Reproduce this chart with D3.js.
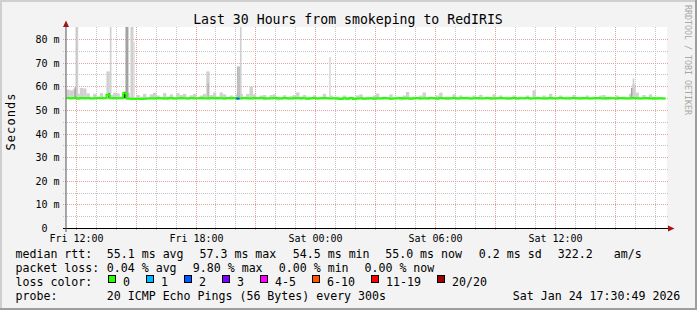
<!DOCTYPE html>
<html>
<head>
<meta charset="utf-8">
<script src="https://cdn.jsdelivr.net/npm/d3@7"></script>
<style>
    html, body { margin: 0; padding: 0; background: #f3f3f3; }
    svg { display: block; }
    text { font-family: "DejaVu Sans Mono", monospace; fill: #000; }
</style>
</head>
<body>
<svg id="chart" width="697" height="310"></svg>
<script>
// ---- data ----
const startStamp = '2026-01-23 11:30:49';
const endStamp = '2026-01-24 17:30:49';
const stepMinutes = 10;

// median rtt (ms), one value per 10 minutes
const medianRtt = [
    55.2, 55.1, 55.2, 55.0, 55.2, 55.1, 55.2, 55.0, 55.1, 55.2,
    55.1, 55.2, 56.6, 55.1, 55.2, 55.1, 55.2, 57.3, 55.0, 54.9,
    54.8, 54.9, 54.8, 54.9, 55.0, 55.1, 55.0, 55.2, 55.1, 55.0,
    55.1, 55.2, 55.0, 55.1, 55.2, 55.1, 55.0, 55.2, 55.1, 55.1,
    55.2, 55.1, 55.0, 55.2, 55.1, 55.2, 55.1, 55.0, 55.2, 55.1,
    55.2, 55.0, 55.1, 55.2, 55.1, 55.0, 55.2, 55.1, 55.2, 55.1,
    55.0, 55.1, 55.2, 55.1, 55.0, 55.2, 55.1, 55.0, 55.2, 55.1,
    55.2, 55.1, 54.9, 55.1, 55.2, 55.0, 55.1, 55.2, 55.1, 55.0,
    55.1, 55.0, 54.8, 55.1, 54.9, 55.2, 54.8, 55.0, 55.1, 54.9,
    55.0, 55.1, 54.9, 55.1, 55.0, 55.2, 55.1, 54.9, 55.0, 55.1,
    55.2, 55.0, 55.1, 54.9, 55.1, 55.2, 55.0, 55.1, 55.0, 55.2,
    55.1, 55.0, 55.2, 55.1, 55.0, 55.1, 55.2, 55.0, 55.1, 55.2,
    55.1, 55.0, 55.1, 55.2, 55.0, 55.1, 55.2, 55.1, 55.0, 55.1,
    55.2, 55.1, 55.0, 55.1, 55.2, 55.0, 55.1, 55.1, 55.2, 55.0,
    55.1, 55.2, 55.1, 55.0, 55.1, 55.2, 55.0, 55.1, 55.2, 55.1,
    55.0, 55.1, 55.2, 55.1, 55.0, 55.2, 55.1, 55.0, 55.1, 55.2,
    55.1, 55.0, 55.2, 55.1, 55.1, 55.0, 55.2, 55.1, 55.0, 55.1,
    55.2, 55.1, 55.0, 55.1, 55.2, 55.0, 55.1, 55.0, 55.1, 55.0
];

// highest ping of each 10 minute sample (ms)
const smokeTop = [
    58.8, 58.5, 59.0, 57.0, 59.5, 59.3, 57.2, 55.6, 57.0, 55.8,
    57.3, 55.6, 66.5, 56.5, 57.5, 57.2, 55.8, 58.0, 57.5, 55.6,
    55.6, 56.5, 55.8, 57.0, 55.6, 56.8, 57.5, 56.3, 55.6, 57.3,
    55.8, 56.8, 55.6, 57.3, 56.5, 57.0, 55.6, 56.4, 57.0, 55.6,
    56.3, 57.0, 66.5, 56.5, 57.5, 55.8, 57.6, 56.8, 55.6, 56.3,
    55.6, 57.0, 57.0, 55.8, 57.0, 60.0, 56.8, 55.6, 56.3, 56.5,
    55.6, 56.5, 56.8, 55.8, 55.6, 56.4, 55.6, 56.0, 56.5, 57.6,
    55.8, 56.5, 55.8, 55.6, 56.4, 55.6, 55.8, 57.0, 55.6, 56.3,
    55.6, 55.8, 55.6, 56.3, 55.6, 55.8, 55.6, 56.3, 56.8, 55.6,
    55.8, 55.6, 56.3, 57.1, 55.6, 55.8, 55.6, 56.8, 55.6, 55.8,
    55.6, 56.3, 57.8, 55.6, 55.8, 55.6, 56.3, 57.6, 55.6, 55.8,
    55.6, 56.3, 57.5, 55.6, 55.8, 55.6, 56.8, 55.6, 56.3, 55.6,
    55.8, 55.6, 56.3, 55.6, 56.6, 55.6, 55.8, 55.6, 56.8, 55.6,
    56.3, 55.6, 55.8, 55.6, 56.3, 55.6, 55.8, 55.6, 56.3, 55.6,
    58.5, 55.8, 55.6, 56.3, 55.6, 57.0, 55.8, 55.6, 56.3, 55.6,
    55.8, 55.6, 56.5, 55.6, 55.8, 55.6, 56.3, 55.6, 55.8, 55.6,
    56.3, 56.5, 55.6, 55.8, 55.6, 56.3, 55.6, 55.8, 55.6, 57.0,
    61.0, 57.5, 55.6, 56.5, 55.6, 56.8, 55.6, 55.8, 55.6, 55.6
];

// lowest ping of each 10 minute sample (ms)
const smokeBottom = [
    54.7, 54.6, 54.7, 54.5, 54.7, 54.6, 54.7, 54.7, 54.6, 54.7,
    54.7, 54.6, 54.7, 54.7, 54.5, 54.7, 54.6, 54.7, 54.4, 54.3,
    54.4, 54.3, 54.5, 54.6, 54.7, 54.6, 54.7, 54.6, 54.7, 54.6,
    54.3, 54.7, 54.6, 54.7, 54.5, 54.7, 54.6, 54.7, 54.6, 54.7,
    54.6, 54.7, 54.7, 54.6, 54.7, 54.5, 54.7, 54.6, 54.7, 54.6,
    54.7, 54.6, 54.5, 54.7, 54.6, 54.7, 54.6, 54.7, 54.6, 54.3,
    54.7, 54.6, 54.7, 54.2, 54.6, 54.7, 54.5, 54.7, 54.6, 54.7,
    54.3, 54.7, 54.5, 54.6, 54.7, 54.6, 54.7, 54.6, 54.7, 54.6,
    54.7, 54.5, 54.4, 54.6, 54.3, 54.7, 54.4, 54.6, 54.7, 54.5,
    54.6, 54.7, 54.5, 54.6, 54.7, 54.6, 54.7, 54.4, 54.6, 54.7,
    54.2, 54.6, 54.7, 54.5, 54.6, 54.7, 54.6, 54.7, 54.6, 54.7,
    54.6, 54.3, 54.7, 54.6, 54.5, 54.6, 54.7, 54.6, 54.7, 54.6,
    54.7, 54.6, 54.7, 54.6, 54.7, 54.6, 54.7, 54.3, 54.6, 54.7,
    54.6, 54.7, 54.6, 54.4, 54.7, 54.6, 54.7, 54.6, 54.7, 54.6,
    54.7, 54.6, 54.7, 54.6, 54.5, 54.6, 54.7, 54.6, 54.7, 54.6,
    54.7, 54.6, 54.7, 54.6, 54.7, 54.6, 54.7, 54.6, 54.7, 54.6,
    54.7, 54.6, 54.3, 54.6, 54.7, 54.6, 54.7, 54.6, 54.7, 54.6,
    54.6, 54.7, 54.6, 54.7, 54.6, 54.7, 54.3, 54.6, 54.7, 54.6
];

// short outliers (5 minute slots): range in ms and how many of the 20 pings fall there
const smokeBursts = [
    { at: '2026-01-23 11:55', lo: 55.5, hi: 59.8, pings: 7 },
    { at: '2026-01-23 11:58', lo: 56.0, hi: 95, pings: 3 },
    { at: '2026-01-23 12:01', lo: 56.0, hi: 95, pings: 2 },
    { at: '2026-01-23 13:37', lo: 55.2, hi: 57.2, pings: 19 },
    { at: '2026-01-23 13:41', lo: 57.2, hi: 95, pings: 2 },
    { at: '2026-01-23 14:24', lo: 55.2, hi: 57.8, pings: 19 },
    { at: '2026-01-23 14:28', lo: 57.8, hi: 95, pings: 6 },
    { at: '2026-01-23 14:32', lo: 55.5, hi: 95, pings: 6 },
    { at: '2026-01-23 14:43', lo: 55.5, hi: 95, pings: 2 },
    { at: '2026-01-23 14:47', lo: 55.5, hi: 95, pings: 2 },
    { at: '2026-01-23 14:51', lo: 55.5, hi: 79, pings: 1 },
    { at: '2026-01-23 18:34', lo: 55.5, hi: 61.5, pings: 4 },
    { at: '2026-01-23 20:03', lo: 55.5, hi: 68.6, pings: 4 },
    { at: '2026-01-23 20:07', lo: 55.5, hi: 68.6, pings: 4 },
    { at: '2026-01-23 20:12', lo: 55.5, hi: 95, pings: 2 },
    { at: '2026-01-24 00:40', lo: 56.0, hi: 72.6, pings: 1 },
    { at: '2026-01-24 15:47', lo: 55.5, hi: 59.5, pings: 6 },
    { at: '2026-01-24 15:52', lo: 55.5, hi: 63.5, pings: 2 }
];

// samples with packet loss (pings lost out of 20)
const lossEvents = [
    { at: '2026-01-23 20:10', lost: 2 }
];

const lossLabels = ['0', '1', '2', '3', '4-5', '6-10', '11-19', '20/20'];
const lossColors = ['#26ff00', '#00b8ff', '#0059ff', '#7e00ff', '#ff00ff', '#ff5500', '#ff0000', '#a10000'];

const rttStats = ['55.1 ms avg', '57.3 ms max', '54.5 ms min', '55.0 ms now', '0.2 ms sd', '322.2', 'am/s'];
const lossStats = ['0.04 % avg', '9.80 % max', '0.00 % min', '0.00 % now'];
const probeText = '20 ICMP Echo Pings (56 Bytes) every 300s';
const stampText = 'Sat Jan 24 17:30:49 2026';
const titleText = 'Last 30 Hours from smokeping to RedIRIS';
const yTickValues = [0, 10, 20, 30, 40, 50, 60, 70, 80];

// ---- drawing ----
const W = 697, H = 310;
const svg = d3.select('#chart');

const parseFull = d3.timeParse('%Y-%m-%d %H:%M:%S');
const parseMin = d3.timeParse('%Y-%m-%d %H:%M');
const start = parseFull(startStamp);
const end = parseFull(endStamp);

const x = d3.scaleTime().domain([start, end]).range([66.5, 665.5]);
const y = d3.scaleLinear().domain([0, 85]).range([228.5, 27.7]);
const smokeColor = d3.scaleLinear().domain([1, 20]).range(['#dcdcdc', '#000000']);
const lossColor = d3.scaleThreshold().domain([1, 2, 3, 4, 6, 11, 20]).range(lossColors);

const sampleTime = i => d3.timeMinute.offset(start, i * stepMinutes);
const crisp = v => Math.floor(v) + 0.5;

// background + 3d frame
svg.append('rect').attr('width', W).attr('height', H).attr('fill', '#f3f3f3');
svg.append('rect').attr('x', 0).attr('y', 0).attr('width', W).attr('height', 2).attr('fill', '#cfcfcf');
svg.append('rect').attr('x', 0).attr('y', 0).attr('width', 2).attr('height', H).attr('fill', '#cfcfcf');
svg.append('rect').attr('x', W - 2).attr('y', 0).attr('width', 2).attr('height', H).attr('fill', '#9e9e9e');
svg.append('rect').attr('x', 0).attr('y', H - 2).attr('width', W).attr('height', 2).attr('fill', '#9e9e9e');

// plot canvas
svg.append('rect')
    .attr('x', 66).attr('y', 27)
    .attr('width', 601).attr('height', 201.5)
    .attr('fill', '#ffffff');

svg.append('clipPath').attr('id', 'plotclip')
    .append('rect').attr('x', 66).attr('y', 27).attr('width', 601).attr('height', 202);

// grid
const grid = svg.append('g').attr('fill', 'none').attr('stroke-width', 1).attr('stroke-dasharray', '1,1');
const hours = d3.timeHour.every(1).range(start, end);
const minorValues = d3.range(5, 85, 5);

grid.selectAll('line.vminor')
    .data(hours.filter(d => d.getHours() % 3 !== 0))
    .enter().append('line')
    .attr('x1', d => crisp(x(d))).attr('x2', d => crisp(x(d)))
    .attr('y1', 27).attr('y2', 231)
    .attr('stroke', '#c4c4c4');

grid.selectAll('line.hminor')
    .data(minorValues.filter(v => v % 10 !== 0))
    .enter().append('line')
    .attr('x1', 63).attr('x2', 669)
    .attr('y1', d => crisp(y(d))).attr('y2', d => crisp(y(d)))
    .attr('stroke', '#c4c4c4');

grid.selectAll('line.vmajor')
    .data(hours.filter(d => d.getHours() % 3 === 0))
    .enter().append('line')
    .attr('x1', d => crisp(x(d))).attr('x2', d => crisp(x(d)))
    .attr('y1', 27).attr('y2', 231)
    .attr('stroke', '#e3a0a0');

grid.selectAll('line.hmajor')
    .data(minorValues.filter(v => v % 10 === 0))
    .enter().append('line')
    .attr('x1', 63).attr('x2', 669)
    .attr('y1', d => crisp(y(d))).attr('y2', d => crisp(y(d)))
    .attr('stroke', '#e3a0a0');

// smoke
const plot = svg.append('g').attr('clip-path', 'url(#plotclip)');

plot.append('g').selectAll('rect')
    .data(smokeTop)
    .enter().append('rect')
    .attr('x', (d, i) => x(sampleTime(i)))
    .attr('width', (d, i) => x(sampleTime(i + 1)) - x(sampleTime(i)))
    .attr('y', d => y(d))
    .attr('height', (d, i) => y(smokeBottom[i]) - y(d))
    .attr('fill', smokeColor(2));

plot.append('g').selectAll('rect')
    .data(smokeBursts)
    .enter().append('rect')
    .attr('x', d => x(parseMin(d.at)))
    .attr('width', d => Math.max(1.5, x(d3.timeMinute.offset(parseMin(d.at), 5)) - x(parseMin(d.at))))
    .attr('y', d => y(d.hi))
    .attr('height', d => y(d.lo) - y(d.hi))
    .attr('fill', d => smokeColor(d.pings));

// median line
const medianPoints = medianRtt.map((v, i) => [sampleTime(i), v]);
medianPoints.push([end, medianRtt[medianRtt.length - 1]]);

const line = d3.line()
    .x(d => x(d[0]))
    .y(d => y(d[1]))
    .curve(d3.curveStepAfter);

plot.append('path')
    .datum(medianPoints)
    .attr('d', line)
    .attr('fill', 'none')
    .attr('stroke', lossColor(0))
    .attr('stroke-width', 2);

// loss coloured pieces of the median
plot.append('g').selectAll('path')
    .data(lossEvents)
    .enter().append('path')
    .attr('d', d => {
        const i = Math.floor((parseMin(d.at) - start) / (stepMinutes * 60000));
        return line([[sampleTime(i), medianRtt[i]], [sampleTime(i + 1), medianRtt[i]]]);
    })
    .attr('fill', 'none')
    .attr('stroke', d => lossColor(d.lost))
    .attr('stroke-width', 2);

// axes
svg.append('line')
    .attr('x1', 63).attr('x2', 669)
    .attr('y1', 228.5).attr('y2', 228.5)
    .attr('stroke', '#000').attr('stroke-width', 1);
svg.append('line')
    .attr('x1', 66).attr('x2', 66)
    .attr('y1', 232).attr('y2', 24)
    .attr('stroke', '#555').attr('stroke-width', 1);
svg.append('path').attr('d', 'M66,20.5L69,27L63,27Z').attr('fill', '#a31515');
svg.append('path').attr('d', 'M674.5,228.5L668,225.5L668,231.5Z').attr('fill', '#a31515');

// y tick labels
const yLabels = svg.append('g').style('font-size', '10px');
yLabels.selectAll('text.num')
    .data(yTickValues)
    .enter().append('text')
    .attr('x', 47.5)
    .attr('y', d => crisp(y(d)) + 3.5)
    .attr('text-anchor', 'end')
    .text(d => d);
yLabels.selectAll('text.unit')
    .data(yTickValues.filter(d => d > 0))
    .enter().append('text')
    .attr('x', 53.5)
    .attr('y', d => crisp(y(d)) + 3.5)
    .text('m');

// x tick labels
svg.append('g').style('font-size', '10px')
    .selectAll('text')
    .data(d3.timeHour.every(6).range(start, end))
    .enter().append('text')
    .attr('x', d => crisp(x(d)))
    .attr('y', 241.5)
    .attr('text-anchor', 'middle')
    .text(d => d3.timeFormat('%a %H:%M')(d));

// title, axis title, watermark
svg.append('text')
    .attr('x', 348).attr('y', 23.5)
    .attr('text-anchor', 'middle')
    .style('font-size', '13.2px')
    .text(titleText);

svg.append('text')
    .attr('transform', 'translate(14.5,122) rotate(-90)')
    .attr('text-anchor', 'middle')
    .attr('textLength', 57)
    .style('font-size', '12px')
    .text('Seconds');

svg.append('text')
    .attr('transform', 'translate(685,5) rotate(90)')
    .style('font-size', '8.3px')
    .style('fill', '#a8a8a8')
    .text('RRDTOOL / TOBI OETIKER');

// legend
const legend = svg.append('g').style('font-size', '11.6px').attr('xml:space', 'preserve');
const rowY = [258, 272, 286, 300];
const rttX = [106.8, 199.5, 292.8, 385.2, 478.8, 557.8, 613.8];
const lossX = [106.8, 192.8, 278.8, 364.5];

legend.append('text').attr('x', 15.5).attr('y', rowY[0]).text('median rtt:');
legend.selectAll('text.rtt')
    .data(rttStats)
    .enter().append('text')
    .attr('x', (d, i) => rttX[i]).attr('y', rowY[0])
    .text(d => d);

legend.append('text').attr('x', 15.5).attr('y', rowY[1]).text('packet loss:');
legend.selectAll('text.loss')
    .data(lossStats)
    .enter().append('text')
    .attr('x', (d, i) => lossX[i]).attr('y', rowY[1])
    .text(d => d);

legend.append('text').attr('x', 15.5).attr('y', rowY[2]).text('loss color:');
const charW = 6.98;
let boxX = 108.5;
lossLabels.forEach((label, i) => {
    legend.append('rect')
        .attr('x', boxX).attr('y', 275.5)
        .attr('width', 7).attr('height', 7)
        .attr('fill', lossColors[i])
        .attr('stroke', '#000').attr('stroke-width', 1);
    legend.append('text')
        .attr('x', boxX + 14.5).attr('y', rowY[2])
        .text(label);
    boxX = Math.round(boxX + 15 + label.length * charW + 15.4) + 0.5;
});

legend.append('text').attr('x', 15.5).attr('y', rowY[3]).text('probe:');
legend.append('text').attr('x', 106.8).attr('y', rowY[3]).text(probeText);
legend.append('text').attr('x', 512.8).attr('y', rowY[3]).text(stampText);
</script>
</body>
</html>
